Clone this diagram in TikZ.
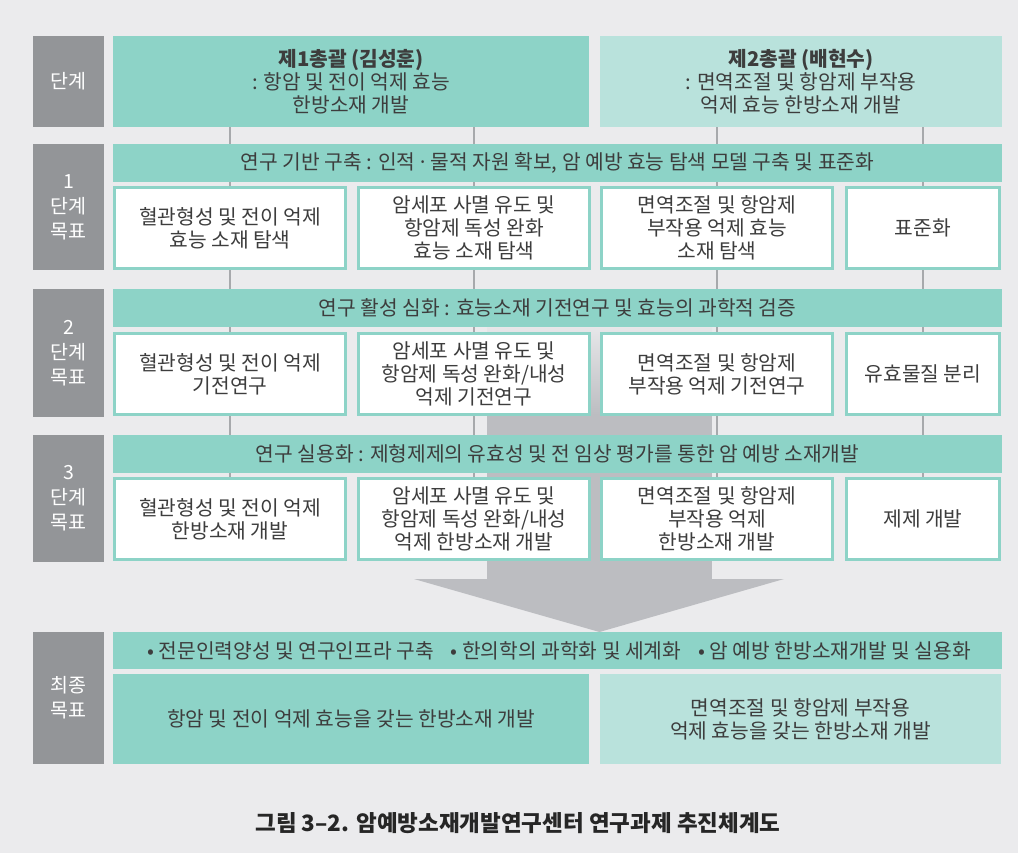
\documentclass[tikz,border=0pt]{standalone}
\usepackage{fontspec}
\setmainfont{Noto Sans CJK KR}
\usetikzlibrary{positioning,backgrounds}
\definecolor{tealdark}{HTML}{8DD3C7}
\definecolor{teallight}{HTML}{B9E2DC}
\definecolor{labgray}{HTML}{939598}
\definecolor{bgc}{HTML}{EBEBED}
\definecolor{arrowc}{HTML}{BCBDC1}
\definecolor{linec}{HTML}{A7A9AC}
\definecolor{txt}{HTML}{3D3D3D}

\begin{document}
\begin{tikzpicture}[x=1pt, y=-1pt,
  every node/.style={align=center, inner sep=0pt, text=txt, font=\fontsize{20.3}{23}\selectfont},
  lab/.style={fill=labgray, text=white, minimum width=71pt, font=\fontsize{19.5}{25}\selectfont},
  head/.style={fill=tealdark, minimum height=91pt},
  band/.style={fill=tealdark, minimum width=889pt, minimum height=38pt},
  cell/.style={draw=tealdark, line width=3pt, fill=white, minimum width=231pt, minimum height=81pt},
  link/.style={draw=linec, line width=2pt}]
\useasboundingbox (0,0) rectangle (1018,853);

% stage
\node[lab, minimum height=91pt] (s0) at (68.5,81.5) {단계};
\node[head, minimum width=476pt] (h1) at (351,81.5) {\textbf{제1총괄 (김성훈)}\\: 항암 및 전이 억제 효능\\한방소재 개발};
\node[head, fill=teallight, minimum width=402pt] (h2) at (801,81.5) {\textbf{제2총괄 (배현수)}\\: 면역조절 및 항암제 부작용\\억제 효능 한방소재 개발};

% step 1
\node[lab, minimum height=126pt] (s1) at (68.5,207) {1\\단계\\목표};
\node[band] (b1) at (557.5,163) {연구 기반 구축 : 인적 \makebox[0.3em]{·} 물적 자원 확보, 암 예방 효능 탐색 모델 구축 및 표준화};
\node[cell] (c1a) at (230,228) {혈관형성 및 전이 억제\\효능 소재 탐색};
\node[cell] (c1b) at (474,228) {암세포 사멸 유도 및\\항암제 독성 완화\\효능 소재 탐색};
\node[cell] (c1c) at (717,228) {면역조절 및 항암제\\부작용 억제 효능\\소재 탐색};
\node[cell, minimum width=153pt] (c1d) at (923,228) {표준화};

% step 2
\node[lab, minimum height=128pt] (s2) at (68.5,353) {2\\단계\\목표};
\node[band] (b2) at (557.5,308) {연구 활성 심화 : 효능소재 기전연구 및 효능의 과학적 검증};
\node[cell] (c2a) at (230,374) {혈관형성 및 전이 억제\\기전연구};
\node[cell] (c2b) at (474,374) {암세포 사멸 유도 및\\항암제 독성 완화/내성\\억제 기전연구};
\node[cell] (c2c) at (717,374) {면역조절 및 항암제\\부작용 억제 기전연구};
\node[cell, minimum width=153pt] (c2d) at (923,374) {유효물질 분리};

% step 3
\node[lab, minimum height=127pt] (s3) at (68.5,498.5) {3\\단계\\목표};
\node[band] (b3) at (557.5,454) {연구 실용화 : 제형제제의 유효성 및 전 임상 평가를 통한 암 예방 소재개발};
\node[cell] (c3a) at (230,519) {혈관형성 및 전이 억제\\한방소재 개발};
\node[cell] (c3b) at (474,519) {암세포 사멸 유도 및\\항암제 독성 완화/내성\\억제 한방소재 개발};
\node[cell] (c3c) at (717,519) {면역조절 및 항암제\\부작용 억제\\한방소재 개발};
\node[cell, minimum width=153pt] (c3d) at (923,519) {제제 개발};

% final
\coordinate (tip) at (599.5,632);
\node[lab, minimum height=132pt] (s4) at (68.5,698) {최종\\목표};
\node[band, minimum height=37pt] (b4) at (557.5,650.5) {\hspace{3pt}• 전문인력양성 및 연구인프라 구축\hspace{17pt}• 한의학의 과학화 및 세계화\hspace{17pt}• 암 예방 한방소재개발 및 실용화};
\node[head, minimum width=476pt, minimum height=90pt] (f1) at (351,719) {항암 및 전이 억제 효능을 갖는 한방소재 개발};
\node[head, fill=teallight, minimum width=401pt, minimum height=90pt] (f2) at (800.5,719) {면역조절 및 항암제 부작용\\억제 효능을 갖는 한방소재 개발};

\node[font=\bfseries\fontsize{22.5}{26}\selectfont, text=black!85] (cap) at (518,823) {그림 3–2. 암예방소재개발연구센터 연구과제 추진체계도};

\begin{scope}[on background layer]
\fill[bgc] (0,0) rectangle (1018,853);
% big arrow
\shade[top color=bgc, bottom color=arrowc] (487,318) rectangle (712,415);
\fill[arrowc] (487,414) rectangle (712,579);
\fill[arrowc] (414,579) -- (784,579) -- (tip) -- cycle;
% links
\draw[link] (c1a.north |- h1.south) -- (c3a.north);
\draw[link] (c1b.north |- h1.south) -- (c3b.north);
\draw[link] (c1c.north |- h2.south) -- (c3c.north);
\draw[link] (c1d.north |- h2.south) -- (c3d.north);
\end{scope}
\end{tikzpicture}
\end{document}
